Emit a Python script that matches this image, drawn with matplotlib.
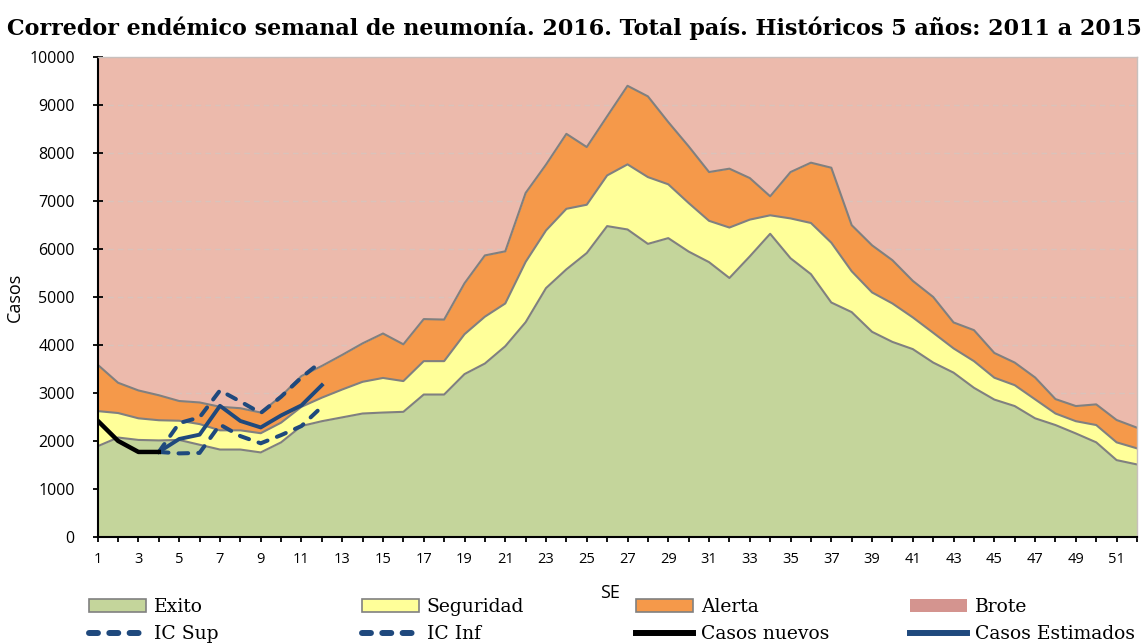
import numpy as np
import matplotlib
matplotlib.use('Agg')
import matplotlib.pyplot as plt
from matplotlib.patches import Patch
from matplotlib.lines import Line2D

# Datos
semanas = np.arange(1, 53)

exito = [1900, 2080, 2030, 2020, 2030, 1930, 1830, 1830, 1770, 1980,
         2320, 2420, 2500, 2580, 2600, 2615, 2975, 2975, 3400, 3620,
         3980, 4480, 5190, 5580, 5920, 6480, 6410, 6110, 6230, 5950,
         5730, 5400, 5850, 6320, 5810, 5480, 4890, 4690, 4280, 4070,
         3920, 3640, 3430, 3115, 2870, 2735, 2480, 2340, 2165, 1980,
         1610, 1520]

seguridad = [2630, 2590, 2480, 2440, 2430, 2360, 2230, 2230, 2170, 2390,
             2720, 2910, 3080, 3240, 3320, 3255, 3670, 3670, 4230, 4595,
             4870, 5735, 6390, 6840, 6925, 7535, 7765, 7500, 7350, 6960,
             6590, 6450, 6615, 6705, 6640, 6545, 6135, 5540, 5100, 4870,
             4580, 4260, 3935, 3670, 3325, 3170, 2875, 2580, 2420, 2340,
             1980, 1855]

alerta = [3595, 3220, 3060, 2960, 2840, 2810, 2720, 2690, 2600, 2940,
          3360, 3570, 3800, 4040, 4245, 4020, 4545, 4535, 5290, 5870,
          5955, 7170, 7760, 8400, 8125, 8765, 9400, 9180, 8645, 8140,
          7605, 7675, 7480, 7100, 7605, 7800, 7695, 6500, 6080, 5770,
          5340, 5005, 4475, 4315, 3840, 3640, 3330, 2880, 2735, 2770,
          2445, 2285]

brote_tope = 10000

sem_nuevos = [1, 2, 3, 4]
casos_nuevos = [2430, 2010, 1780, 1780]

sem_est = [4, 5, 6, 7, 8, 9, 10, 11, 12]
casos_estimados = [1780, 2050, 2140, 2740, 2425, 2290, 2540, 2750, 3170]
ic_sup = [1780, 2380, 2500, 3060, 2830, 2590, 2930, 3330, 3670]
ic_inf = [1780, 1750, 1760, 2350, 2110, 1960, 2130, 2320, 2720]

# Colores
c_exito = '#c4d59b'
c_seg = '#ffff99'
c_alerta = '#f5994a'
c_brote = '#ecbaac'
c_brote_leg = '#d4948f'
c_borde = '#808080'
c_azul = '#1f497d'

fig = plt.figure(figsize=(11.48, 6.43), dpi=100)
ax = fig.add_axes([0.0851, 0.1641, 0.9053, 0.7473])

ax.fill_between(semanas, alerta, brote_tope, color=c_brote, lw=0, zorder=0.2)
ax.fill_between(semanas, seguridad, alerta, color=c_alerta, lw=0, zorder=1)
ax.fill_between(semanas, exito, seguridad, color=c_seg, lw=0, zorder=1)
ax.fill_between(semanas, 0, exito, color=c_exito, lw=0, zorder=1)
for serie in (exito, seguridad, alerta):
    ax.plot(semanas, serie, color=c_borde, lw=1.5, zorder=2)

ax.plot(sem_est, ic_sup, color=c_azul, lw=2.9, ls=(0, (2.4, 2.5)),
        dash_capstyle='round', zorder=3)
ax.plot(sem_est, ic_inf, color=c_azul, lw=2.9, ls=(0, (2.4, 2.5)),
        dash_capstyle='round', zorder=3)
ax.plot(sem_est, casos_estimados, color=c_azul, lw=2.8, zorder=4)
ax.plot(sem_nuevos, casos_nuevos, color='black', lw=3.2, zorder=4)

ax.set_xlim(1, 52)
ax.set_ylim(0, 10000)
ax.set_yticks(np.arange(0, 10001, 1000))
ax.set_xticks(semanas)
ax.set_xticklabels([str(s) if s % 2 == 1 else '' for s in semanas])
ax.set_axisbelow(True)
ax.yaxis.grid(True, color='#d9c3bb', ls=(0, (4, 3)), lw=1)

for lado in ('top', 'right'):
    ax.spines[lado].set_color('#c8c0bd')
    ax.spines[lado].set_linewidth(1)
ax.spines['left'].set_linewidth(1.5)
ax.spines['bottom'].set_linewidth(1.5)
ax.tick_params(axis='both', direction='inout', length=7, width=1.3,
               labelsize=11.5, colors='black')
for lab in ax.get_xticklabels() + ax.get_yticklabels():
    lab.set_family('Open Sans')
ax.tick_params(axis='x', pad=7, labelsize=10.5)
ax.tick_params(axis='y', pad=13)

ax.set_ylabel('Casos', family='Open Sans', fontsize=13, labelpad=4)
fig.text(0.531, 0.078, 'SE', family='Open Sans', fontsize=13, ha='center', va='center')

fig.text(0.5, 1 - 28 / 643,
         'Corredor endémico semanal de neumonía. 2016. Total país. Históricos 5 años: 2011 a 2015',
         ha='center', va='center', family='DejaVu Serif', fontweight='bold', fontsize=16)

# Leyenda en 4 columnas
dash_leg = dict(color=c_azul, lw=4.3, ls=(0, (1.5, 1.9)), dash_capstyle='round')
columnas = [
    [Patch(facecolor=c_exito, edgecolor=c_borde, lw=1.2), Line2D([], [], **dash_leg)],
    [Patch(facecolor=c_seg, edgecolor=c_borde, lw=1.2), Line2D([], [], **dash_leg)],
    [Patch(facecolor=c_alerta, edgecolor=c_borde, lw=1.2), Line2D([], [], color='black', lw=4.3)],
    [Patch(facecolor=c_brote_leg, edgecolor=c_brote_leg, lw=0), Line2D([], [], color=c_azul, lw=4.3)],
]
etiquetas = [['Exito', 'IC Sup'], ['Seguridad', 'IC Inf'],
             ['Alerta', 'Casos nuevos'], ['Brote', 'Casos Estimados']]
xs = [89, 362, 636, 910]
for h, l, x0 in zip(columnas, etiquetas, xs):
    fig.legend(h, l, loc='upper left', bbox_to_anchor=(x0 / 1148, 1 - 598 / 643),
               frameon=False, prop={'family': 'DejaVu Serif', 'size': 13.5},
               handlelength=3.05, handleheight=0.7, handletextpad=0.4,
               labelspacing=0.5, borderpad=0, borderaxespad=0)

fig.savefig('out.png', dpi=100)
